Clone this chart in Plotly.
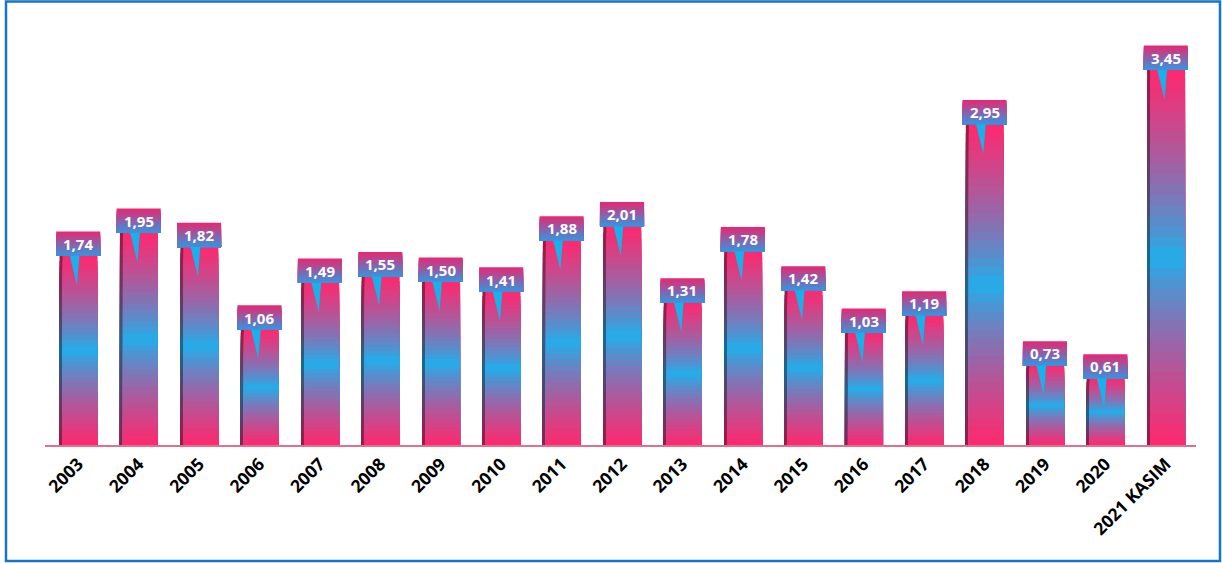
import plotly.graph_objects as go

categories = ["2003", "2004", "2005", "2006", "2007", "2008", "2009", "2010", "2011",
              "2012", "2013", "2014", "2015", "2016", "2017", "2018", "2019", "2020",
              "2021 KASIM"]
values = [1.74, 1.95, 1.82, 1.06, 1.49, 1.55, 1.50, 1.41, 1.88,
          2.01, 1.31, 1.78, 1.42, 1.03, 1.19, 2.95, 0.73, 0.61, 3.45]
labels = [f"{v:.2f}".replace(".", ",") for v in values]

W, H = 1222, 563
ML, MR, MT, MB = 45, 26, 20, 118
YMAX = 3.91
xs = list(range(len(categories)))

PINK = (255, 40, 110)
BLUE = (25, 180, 240)


def mix(c1, c2, t):
    return tuple(int(round(a + (b - a) * t)) for a, b in zip(c1, c2))


def rgb(c):
    return f"rgb({c[0]},{c[1]},{c[2]})"


def bar_color(f, dark=1.0):
    d = abs(2 * f - 1) ** 0.75
    c = mix(BLUE, PINK, d)
    return tuple(int(v * dark) for v in c)


fig = go.Figure()

N = 36
# dark left edge (3D look)
for k in range(N):
    frac = (N - k) / N
    fig.add_trace(go.Bar(
        x=xs, y=[v * frac for v in values], offset=-0.31, width=0.08,
        marker=dict(color=rgb(bar_color((N - k - 0.5) / N, 0.62)), line=dict(width=0)),
        hoverinfo="skip", showlegend=False))
# main gradient bars
for k in range(N):
    frac = (N - k) / N
    fig.add_trace(go.Bar(
        x=xs, y=[v * frac for v in values], offset=-0.26, width=0.58,
        marker=dict(color=rgb(bar_color((N - k - 0.5) / N)), line=dict(width=0)),
        hoverinfo="skip", showlegend=False))

# label boxes (gradient pink top -> blue bottom)
BOX_H = 0.225
M = 12
BOX_TOP = (235, 38, 112)
BOX_BOT = (50, 150, 225)
for j in range(M):
    frac = (M - j) / M
    t = (M - j - 0.5) / M
    fig.add_trace(go.Bar(
        x=xs, y=[BOX_H * frac] * len(xs), base=values, width=0.73,
        marker=dict(color=rgb(mix(BOX_BOT, BOX_TOP, t)), line=dict(width=0)),
        hoverinfo="skip", showlegend=False))

# callout pointers
px, py = [], []
for i, v in zip(xs, values):
    px += [i - 0.14, i + 0.02, i - 0.02, i - 0.14, None]
    py += [v + 0.001, v + 0.001, v - 0.27, v + 0.001, None]
fig.add_trace(go.Scatter(x=px, y=py, mode="lines", fill="toself",
                         fillcolor="#17b2ec", line=dict(width=0, color="#17b2ec"),
                         hoverinfo="skip", showlegend=False))

for i, v, lab in zip(xs, values, labels):
    fig.add_annotation(x=i, y=v + BOX_H / 2, text=lab, showarrow=False,
                       font=dict(family="Open Sans", size=15, color="white", weight="bold"),
                       xanchor="center", yanchor="middle")

pw = W - ML - MR
ph = H - MT - MB


def pxx(p):
    return (p - ML) / pw


def pyy(p):
    return (H - MB - p) / ph


fig.add_shape(type="rect", xref="paper", yref="paper",
              x0=pxx(6), x1=pxx(1220), y0=pyy(561), y1=pyy(1.5),
              line=dict(color="#1874c6", width=2.5), fillcolor="rgba(0,0,0,0)")

fig.update_layout(
    width=W, height=H,
    margin=dict(l=ML, r=MR, t=MT, b=MB),
    barmode="overlay",
    paper_bgcolor="white", plot_bgcolor="white",
    xaxis=dict(range=[-0.55, 18.5], tickmode="array", tickvals=xs, ticktext=categories,
               tickangle=-45, showgrid=False, zeroline=False, showline=True,
               linecolor="#e0708f", linewidth=2, ticks="",
               tickfont=dict(family="Open Sans", size=17.5, color="black", weight="bold")),
    yaxis=dict(range=[0, YMAX], visible=False, showgrid=False, zeroline=False),
)

fig.write_html("out.html", config={"displayModeBar": False},
               post_script="document.body.style.margin='0';document.body.style.overflow='hidden';")
